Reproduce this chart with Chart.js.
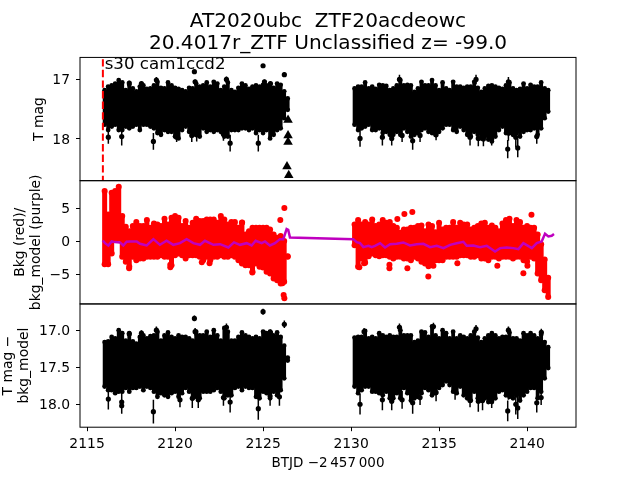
<!DOCTYPE html>
<html>
<head>
<meta charset="utf-8">
<script src="https://cdn.jsdelivr.net/npm/chart.js@4"></script>
<style>
body { margin: 0; background: #fff; }
canvas { display: block; }
</style>
</head>
<body>
<canvas id="myChart" width="640" height="480"></canvas>
<script>
// the points overlap into solid bands in the picture, so the bands are read
// column by column as top and bottom edges, with the loose points listed apart
const bandTimes = [
  2116.0, 2116.2, 2116.4, 2116.6, 2116.8, 2117.0, 2117.2, 2117.4, 2117.6, 2117.8,
  2118.0, 2118.2, 2118.4, 2118.6, 2118.8, 2119.0, 2119.2, 2119.4, 2119.6, 2119.8,
  2120.0, 2120.2, 2120.4, 2120.6, 2120.8, 2121.0, 2121.2, 2121.4, 2121.6, 2121.8,
  2122.0, 2122.2, 2122.4, 2122.6, 2122.8, 2123.0, 2123.2, 2123.4, 2123.6, 2123.8,
  2124.0, 2124.2, 2124.4, 2124.6, 2124.8, 2125.0, 2125.2, 2125.4, 2125.6, 2125.8,
  2126.0, 2126.2, 2126.4,
  2130.2, 2130.4, 2130.6, 2130.8, 2131.0, 2131.2, 2131.4, 2131.6, 2131.8, 2132.0,
  2132.2, 2132.4, 2132.6, 2132.8, 2133.0, 2133.2, 2133.4, 2133.6, 2133.8, 2134.0,
  2134.2, 2134.4, 2134.6, 2134.8, 2135.0, 2135.2, 2135.4, 2135.6, 2135.8, 2136.0,
  2136.2, 2136.4, 2136.6, 2136.8, 2137.0, 2137.2, 2137.4, 2137.6, 2137.8, 2138.0,
  2138.2, 2138.4, 2138.6, 2138.8, 2139.0, 2139.2, 2139.4, 2139.6, 2139.8, 2140.0,
  2140.2, 2140.4, 2140.6, 2140.8, 2141.0, 2141.2
];

// top panel
const magTop = [
  17.18, 17.12, 17.10, 17.07, 17.01, 17.05, 17.18, 17.09, 17.15, 17.20,
  17.12, 17.10, 17.16, 17.15, 17.10, 17.04, 17.14, 17.15, 17.05, 17.10,
  17.14, 17.16, 17.18, 17.20, 17.14, 17.15, 17.07, 17.12, 17.10, 17.05,
  17.12, 17.04, 17.07, 17.18, 17.12, 17.05, 17.18, 17.21, 17.14, 17.07,
  17.10, 17.16, 17.12, 17.10, 17.12, 17.09, 17.10, 17.11, 17.14, 17.07,
  17.09, 17.20, 17.32,
  17.15, 17.12, 17.12, 17.05, 17.15, 17.12, 17.16, 17.09, 17.10, 17.11,
  17.18, 17.15, 17.10, 17.01, 17.10, 17.09, 17.10, 17.21, 17.15, 17.04,
  17.10, 17.10, 17.01, 17.10, 17.18, 17.05, 17.15, 17.18, 17.04, 17.12,
  17.12, 17.14, 17.12, 17.12, 17.04, 17.14, 17.21, 17.15, 17.11, 17.10,
  17.12, 17.14, 17.16, 17.10, 17.05, 17.15, 17.18, 17.16, 17.07, 17.15,
  17.09, 17.12, 17.12, 17.05, 17.15, 17.18
];
const magBottom = [
  17.76, 17.85, 17.79, 17.76, 17.85, 17.85, 17.79, 17.82, 17.79, 17.76,
  17.85, 17.76, 17.76, 17.79, 17.82, 17.90, 17.93, 17.85, 17.88, 17.88,
  17.96, 17.99, 17.85, 17.79, 17.88, 17.93, 17.93, 17.96, 17.82, 17.88,
  17.85, 17.88, 17.85, 17.88, 17.96, 17.96, 17.85, 17.85, 17.85, 17.82,
  17.82, 17.85, 17.82, 17.90, 17.85, 17.90, 17.85, 17.99, 17.93, 17.85,
  17.82, 17.65, 17.51,
  17.76, 17.85, 17.82, 17.79, 17.76, 17.85, 17.85, 17.82, 17.90, 17.88,
  17.93, 17.93, 17.88, 17.93, 17.82, 17.88, 17.96, 17.93, 17.90, 17.85,
  17.82, 17.88, 17.90, 17.93, 17.88, 17.82, 17.76, 17.76, 17.85, 17.88,
  17.79, 17.85, 17.93, 17.96, 17.88, 17.93, 17.99, 17.96, 18.01, 18.04,
  17.96, 17.85, 17.79, 17.90, 17.90, 17.93, 17.90, 17.96, 17.88, 17.85,
  17.85, 17.82, 17.93, 17.82, 17.65, 17.54
];
const looseMagTimes = [
  2116.21, 2116.97, 2118.77, 2123.13, 2124.73, 2122.75, 2121.23, 2120.09, 2120.95, 2121.10,
  2125.00, 2126.21, 2117.40, 2118.09, 2118.94, 2121.14, 2122.92, 2125.08, 2125.42,
  2130.51, 2131.78, 2132.31, 2132.90, 2133.50, 2133.92, 2134.83, 2136.76, 2137.23, 2137.52,
  2137.99, 2138.90, 2138.94, 2139.47, 2139.36, 2140.55, 2132.75, 2137.10, 2138.94
];
const looseMag = [
  17.97, 17.96, 18.04, 18.07, 18.07, 17.92, 17.93, 17.97, 17.94, 16.87,
  16.77, 16.92, 17.06, 17.07, 17.01, 17.04, 17.00, 17.04, 17.07,
  17.99, 17.97, 17.99, 17.94, 18.03, 17.94, 17.93, 17.97, 17.99, 18.00,
  18.00, 18.17, 17.90, 18.15, 17.97, 17.96, 17.00, 17.00, 17.04
];
const looseMagErr = [
  0.11, 0.15, 0.14, 0.14, 0.14, 0.11, 0.11, 0.08, 0.11, 0.03,
  0.03, 0.04, 0.04, 0.04, 0.05, 0.04, 0.05, 0.04, 0.04,
  0.14, 0.14, 0.12, 0.11, 0.15, 0.11, 0.09, 0.14, 0.13, 0.12,
  0.11, 0.155, 0.13, 0.155, 0.17, 0.12, 0.08, 0.08, 0.08
];
const limitTimes = [2126.42, 2126.42, 2126.42, 2126.36, 2126.46];
const limitMag = [17.68, 17.94, 18.05, 18.46, 18.61];
const startTimes = [2115.9, 2115.9];
const startMag = [16.66, 18.7];

// middle panel
const bkgTop = [
  7.68, 4.14, 7.42, 7.68, 8.33, 3.88, 2.27, 1.61, 2.37, 2.98,
  2.37, 2.37, 3.28, 2.12, 2.77, 2.62, 2.37, 3.48, 2.62, 3.63,
  3.88, 3.63, 2.37, 3.13, 2.12, 2.87, 3.48, 3.13, 3.13, 3.38,
  3.38, 3.38, 2.87, 3.88, 3.38, 2.62, 2.98, 2.98, 2.12, 2.87,
  1.11, 1.61, 2.12, 2.12, 2.12, 2.12, 2.12, 1.87, 1.11, 0.60,
  0.86, 0.10, -2.17,
  2.62, 3.28, 2.62, 2.98, 2.62, 3.38, 2.37, 2.62, 3.28, 2.87,
  2.98, 2.37, 2.12, 1.36, 1.87, 1.87, 2.12, 2.12, 2.37, 2.47,
  1.61, 2.62, 2.37, 1.46, 2.87, 1.87, 2.12, 2.12, 2.98, 2.12,
  2.87, 2.62, 2.62, 1.87, 2.12, 2.37, 2.77, 2.87, 2.12, 2.47,
  2.12, 1.61, 2.77, 3.28, 3.48, 2.37, 3.28, 2.98, 2.12, 2.37,
  2.12, 2.12, 1.11, -0.39, -2.68, -5.44
];
const bkgBottom = [
  -3.39, -3.39, -1.77, 0.50, 0.50, -2.28, -3.03, -3.79, -2.28, -2.78,
  -2.53, -2.53, -2.28, -2.28, -2.28, -2.28, -2.02, -2.28, -2.28, -3.54,
  -2.02, -1.77, -2.02, -2.53, -2.02, -2.02, -2.02, -2.28, -2.78, -2.28,
  -2.78, -2.28, -2.28, -2.02, -2.28, -2.28, -2.02, -2.28, -2.78, -3.29,
  -3.54, -3.54, -4.55, -3.29, -3.79, -3.89, -4.55, -4.80, -5.56, -5.81,
  -6.32, -6.06, -2.28,
  -0.51, -3.79, -2.53, -3.19, -2.18, -1.77, -2.02, -2.18, -2.02, -2.02,
  -2.28, -2.53, -2.28, -2.28, -2.53, -2.53, -2.78, -2.28, -2.53, -3.03,
  -3.29, -3.69, -3.54, -2.78, -2.78, -2.78, -2.28, -2.28, -2.28, -2.28,
  -2.02, -2.02, -2.02, -2.28, -2.28, -2.02, -2.53, -2.53, -2.78, -2.28,
  -2.28, -2.53, -2.28, -2.28, -2.28, -2.53, -2.28, -2.28, -2.78, -3.03,
  -2.28, -2.53, -4.80, -5.81, -7.33, -8.34
];
const looseBkgTimes = [
  2126.21, 2125.98, 2123.81, 2126.17, 2126.21, 2126.10, 2121.52, 2121.96, 2119.73, 2119.73,
  2117.39, 2124.39, 2124.45,
  2133.03, 2133.48, 2132.63, 2140.25, 2134.39, 2130.47, 2130.74, 2132.18, 2132.18, 2133.20,
  2136.04, 2138.31, 2139.79, 2140.02, 2134.68
];
const looseBkg = [
  5.10, 3.28, 2.93, -8.03, -8.54, -6.27, -3.08, -3.24, -3.49, -3.84,
  -3.99, -4.65, -3.24,
  4.19, 4.49, 3.43, 4.09, -5.26, -3.84, -3.24, -3.49, -4.00, -3.99,
  -3.24, -3.64, -4.75, -3.64, -3.64
];
const modelTimes = [
  2115.89, 2116.02, 2116.21, 2116.40, 2116.59, 2116.87, 2117.06, 2117.25, 2117.44, 2117.82,
  2118.01, 2118.39, 2118.77, 2119.14, 2119.52, 2119.90, 2120.28, 2120.66, 2121.04, 2121.42,
  2121.70, 2122.18, 2122.56, 2123.03, 2123.35, 2123.69, 2124.07, 2124.35, 2124.58, 2124.92,
  2125.11, 2125.39, 2125.68, 2125.96, 2126.15, 2126.34, 2126.43, 2126.53,
  2130.13, 2130.32, 2130.51, 2130.70, 2130.99, 2131.17, 2131.36, 2131.65, 2131.93, 2132.22,
  2132.59, 2132.97, 2133.35, 2133.73, 2134.11, 2134.49, 2134.87, 2135.25, 2135.63, 2136.00,
  2136.38, 2136.57, 2136.95, 2137.33, 2137.71, 2138.18, 2138.47, 2138.84, 2139.22, 2139.51,
  2139.79, 2140.27, 2140.55, 2140.83, 2141.02, 2141.21, 2141.40, 2141.53
];
const modelBkg = [
  0.20, -0.21, -0.56, 0.05, -0.05, -0.10, -0.56, 0.00, 0.05, 0.05,
  -0.31, -0.56, 0.40, -0.46, 0.15, -0.46, -0.21, 0.40, -0.21, -0.46,
  0.15, -0.46, -0.36, -0.86, -0.10, -0.46, -0.21, -0.56, 0.15, -0.21,
  0.05, -0.56, -0.21, 0.40, 0.40, 1.92, 1.81, 0.65,
  0.40, -0.05, -0.21, -0.81, -0.61, -0.81, -0.61, -0.21, -0.86, -0.36,
  -0.31, -0.10, -0.56, -0.36, -0.31, -0.81, -0.61, -0.96, -0.46, -0.21,
  0.00, -0.61, -0.56, -0.81, -0.61, -1.47, -0.96, -0.86, -0.96, -1.11,
  -0.21, -0.96, -0.21, 0.05, 1.21, 0.80, 0.91, 1.16
];

// bottom panel
const detTop = [
  17.16, 17.15, 17.09, 17.11, 17.00, 17.04, 17.14, 17.04, 17.15, 17.18,
  17.09, 17.07, 17.11, 17.08, 17.07, 17.02, 17.14, 17.07, 17.03, 17.09,
  17.11, 17.07, 17.09, 17.09, 17.11, 17.14, 17.02, 17.07, 17.07, 17.02,
  17.09, 17.00, 17.07, 17.14, 16.97, 17.02, 17.14, 17.14, 17.09, 17.03,
  17.07, 17.09, 17.11, 17.09, 17.11, 17.02, 17.04, 17.02, 17.07, 17.03,
  17.09, 17.21, 17.37,
  17.10, 17.09, 17.09, 17.01, 17.11, 17.09, 17.11, 17.04, 17.07, 17.09,
  17.07, 17.09, 17.09, 17.00, 17.07, 17.07, 17.07, 17.16, 17.14, 17.02,
  17.03, 17.09, 16.95, 17.07, 17.11, 17.00, 17.04, 17.11, 17.02, 17.11,
  17.07, 17.09, 17.11, 17.07, 17.02, 17.10, 17.16, 17.11, 17.07, 17.04,
  17.07, 17.11, 17.09, 17.09, 17.03, 17.11, 17.11, 17.14, 17.04, 17.07,
  17.04, 17.07, 17.11, 17.06, 17.16, 17.23
];
const detBottom = [
  17.76, 17.81, 17.81, 17.85, 17.83, 17.83, 17.78, 17.83, 17.78, 17.78,
  17.76, 17.81, 17.76, 17.78, 17.83, 17.90, 17.85, 17.88, 17.90, 17.85,
  17.83, 17.90, 17.85, 17.78, 17.83, 17.92, 17.90, 17.92, 17.83, 17.83,
  17.83, 17.81, 17.78, 17.83, 17.92, 17.88, 17.88, 17.78, 17.76, 17.81,
  17.76, 17.78, 17.78, 17.90, 17.92, 17.83, 17.85, 17.92, 17.83, 17.88,
  17.81, 17.65, 17.41,
  17.76, 17.85, 17.81, 17.76, 17.76, 17.83, 17.83, 17.85, 17.88, 17.83,
  17.92, 17.92, 17.85, 17.92, 17.78, 17.85, 17.95, 17.92, 17.90, 17.85,
  17.78, 17.81, 17.88, 17.85, 17.78, 17.74, 17.69, 17.74, 17.83, 17.85,
  17.76, 17.88, 17.92, 17.95, 17.83, 17.92, 17.95, 17.92, 17.97, 17.97,
  17.92, 17.83, 17.81, 17.88, 17.90, 17.92, 17.88, 17.95, 17.88, 17.83,
  17.78, 17.78, 17.92, 17.83, 17.65, 17.51
];
const looseDetTimes = [
  2116.21, 2116.97, 2116.97, 2118.77, 2121.10, 2125.00, 2126.21, 2123.13, 2124.73, 2122.75,
  2117.40, 2118.09, 2118.94, 2121.14, 2122.92, 2125.08, 2125.42, 2125.93, 2125.40, 2120.28,
  2121.32, 2120.98,
  2130.51, 2131.78, 2132.31, 2132.90, 2133.50, 2133.92, 2134.83, 2135.91, 2136.76, 2137.23,
  2137.47, 2137.99, 2138.90, 2138.94, 2139.47, 2139.36, 2140.55, 2140.80, 2132.75, 2137.10,
  2138.94, 2130.74, 2134.68, 2140.81
];
const looseDet = [
  17.93, 17.97, 18.02, 18.10, 16.84, 16.75, 16.92, 17.97, 18.06, 17.91,
  17.05, 17.04, 17.00, 17.02, 16.96, 17.04, 17.03, 17.90, 17.89, 17.94,
  17.94, 17.92,
  18.00, 17.94, 17.96, 17.94, 17.98, 17.91, 17.84, 17.82, 17.95, 17.96,
  17.95, 17.95, 18.09, 17.82, 18.05, 18.00, 17.98, 17.91, 16.96, 16.98,
  17.00, 17.02, 16.95, 17.03
];
const looseDetErr = [
  0.14, 0.14, 0.11, 0.16, 0.04, 0.04, 0.05, 0.14, 0.15, 0.11,
  0.04, 0.04, 0.05, 0.05, 0.05, 0.04, 0.04, 0.12, 0.13, 0.10,
  0.11, 0.13,
  0.14, 0.14, 0.12, 0.12, 0.15, 0.10, 0.12, 0.12, 0.09, 0.14,
  0.13, 0.10, 0.14, 0.12, 0.15, 0.14, 0.13, 0.10, 0.05, 0.05,
  0.05, 0.05, 0.05, 0.05
];

const xTicks = [2115, 2120, 2125, 2130, 2135, 2140];
const magTicks = [17, 18];
const bkgTicks = [5, 0, -5];
const detTicks = [17.0, 17.5, 18.0];
const sectorLabel = "s30 cam1ccd2";

function points(times, values) {
    return times.map((t, i) => ({ x: t, y: values[i] }));
}

// vertical pieces separated by gaps, drawn by one line dataset
function ranges(times, lows, highs) {
    const out = [];
    times.forEach((t, i) => {
        out.push({ x: t, y: lows[i] }, { x: t, y: highs[i] }, { x: t, y: null });
    });
    return out;
}

function errRanges(times, values, errs) {
    return ranges(times, values.map((v, i) => v - errs[i]), values.map((v, i) => v + errs[i]));
}

function lineSet(yAxisID, data, color, width) {
    return { yAxisID, data, showLine: true, spanGaps: false, borderColor: color, borderWidth: width, pointRadius: 0 };
}

function dotSet(yAxisID, data, color, radius) {
    return { yAxisID, data, showLine: false, backgroundColor: color, borderWidth: 0, pointRadius: radius };
}

function fixedTicks(values) {
    return (scale) => { scale.ticks = values.map((value) => ({ value })); };
}

const tickGrid = { drawOnChartArea: false, tickLength: 4, tickWidth: 1, tickColor: "#000" };

function panelAxis(min, max, reverse, weight, ticks, titleText, titlePad, format) {
    return {
        axis: "y",
        type: "linear",
        position: "left",
        stack: "panels",
        stackWeight: 1,
        weight,
        min,
        max,
        reverse,
        afterBuildTicks: fixedTicks(ticks),
        afterFit: (scale) => { scale.width = 80; },
        border: { display: false },
        grid: tickGrid,
        ticks: { padding: 6, labelOffset: 1, callback: format, font: { size: 13.9 } },
        title: {
            display: true,
            text: titleText,
            padding: { top: titlePad, bottom: 0 },
            font: { size: 13.9, lineHeight: 1.17 },
        },
    };
}

const panelFrame = {
    id: "panelFrame",
    afterDatasetsDraw(chart) {
        const { ctx, scales } = chart;
        ctx.save();
        ctx.strokeStyle = "#000";
        ctx.lineWidth = 1;
        ["y1", "y2", "y3"].forEach((id) => {
            const s = scales[id];
            ctx.strokeRect(scales.x.left, s.top, scales.x.width, s.height);
        });
        ctx.fillStyle = "#000";
        ctx.font = "16.67px 'DejaVu Sans'";
        ctx.fillText(sectorLabel, scales.x.getPixelForValue(2116.0), scales.y1.getPixelForValue(16.82));
        ctx.restore();
    },
};

Chart.defaults.font.family = "'DejaVu Sans'";
Chart.defaults.color = "#000";

const config = {
    type: "scatter",
    data: {
        datasets: [
            lineSet("y2", points(modelTimes, modelBkg), "#bf00bf", 2.5),
            dotSet("y2", points(looseBkgTimes, looseBkg), "#ff0000", 3),
            dotSet("y2", points(bandTimes, bkgTop), "#ff0000", 3),
            dotSet("y2", points(bandTimes, bkgBottom), "#ff0000", 3),
            lineSet("y2", ranges(bandTimes, bkgTop, bkgBottom), "#ff0000", 5),

            { ...lineSet("y1", points(startTimes, startMag), "#ff0000", 2), borderDash: [7.4, 3.2] },
            { ...dotSet("y1", points(limitTimes, limitMag), "#000", 5.5), pointStyle: "triangle" },
            dotSet("y1", points(looseMagTimes, looseMag), "#000", 2.6),
            lineSet("y1", errRanges(looseMagTimes, looseMag, looseMagErr), "#000", 1.5),
            dotSet("y1", points(bandTimes, magTop), "#000", 2.4),
            dotSet("y1", points(bandTimes, magBottom), "#000", 2.4),
            lineSet("y1", ranges(bandTimes, magTop, magBottom), "#000", 3.8),

            dotSet("y3", points(looseDetTimes, looseDet), "#000", 2.6),
            lineSet("y3", errRanges(looseDetTimes, looseDet, looseDetErr), "#000", 1.5),
            dotSet("y3", points(bandTimes, detTop), "#000", 2.4),
            dotSet("y3", points(bandTimes, detBottom), "#000", 2.4),
            lineSet("y3", ranges(bandTimes, detTop, detBottom), "#000", 3.8),
        ],
    },
    options: {
        responsive: false,
        animation: false,
        devicePixelRatio: 1,
        layout: { padding: { right: 64 } },
        plugins: {
            legend: { display: false },
            tooltip: { enabled: false },
            title: {
                display: true,
                fullSize: false,
                text: ["AT2020ubc  ZTF20acdeowc", "20.4017r_ZTF Unclassified z= -99.0"],
                color: "#000",
                padding: { top: 11, bottom: 2.6 },
                font: { size: 20.1, weight: "normal", lineHeight: 1.09 },
            },
        },
        scales: {
            x: {
                type: "linear",
                position: "bottom",
                min: 2114.6,
                max: 2142.78,
                afterBuildTicks: fixedTicks(xTicks),
                afterFit: (scale) => { scale.height = 52.8; },
                border: { display: false },
                grid: tickGrid,
                ticks: { padding: 5, maxRotation: 0, autoSkip: false, callback: (v) => String(v), font: { size: 13.9 } },
                title: {
                    display: true,
                    text: "BTJD \u22122\u2009457\u2009000",
                    padding: { top: 0, bottom: 8 },
                    font: { size: 13.5 },
                },
            },
            y1: panelAxis(16.63, 18.7, true, 3, magTicks, "T mag", 31, (v) => String(v)),
            y2: panelAxis(-9.4, 9.24, false, 2, bkgTicks, ["Bkg (red)/", "bkg_model (purple)"], 12, (v) => String(v).replace("-", "\u2212")),
            y3: panelAxis(16.645, 18.31, true, 1, detTicks, ["T mag \u2212", "bkg_model"], 0, (v) => v.toFixed(1)),
        },
    },
    plugins: [panelFrame],
};

const ctx = document.getElementById("myChart");
const myChart = new Chart(ctx, config);
</script>
</body>
</html>
